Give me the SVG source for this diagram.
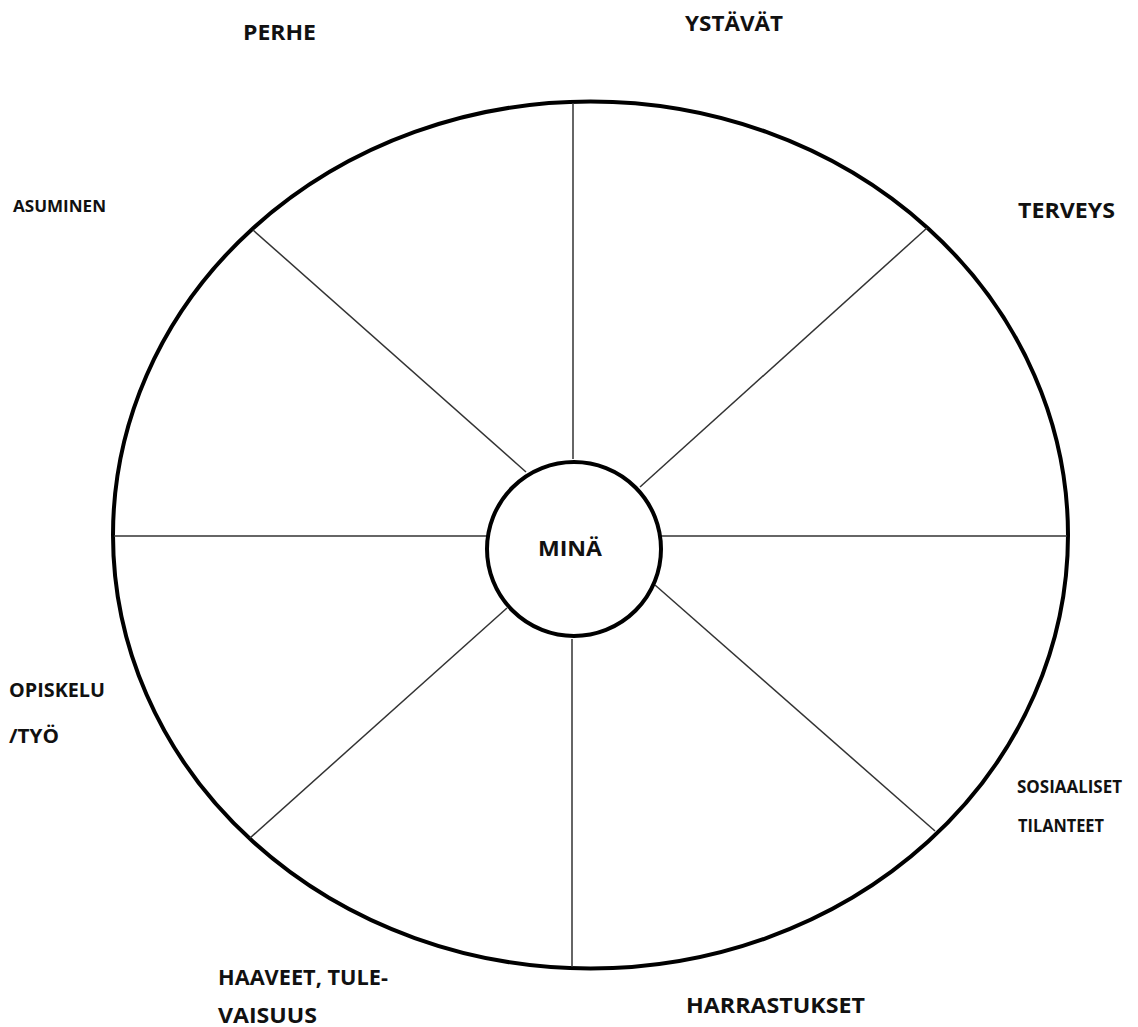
<svg xmlns="http://www.w3.org/2000/svg" width="1138" height="1027" viewBox="0 0 1138 1027">
<style>
.lbl{font-family:"Open Sans","Liberation Sans",sans-serif;font-weight:bold;fill:#111}
.spoke{stroke:#333;stroke-width:1.5;fill:none}
.rim{stroke:#000;stroke-width:4;fill:none}
</style>
<rect width="1138" height="1027" fill="#fff"/>
<g id="wheel">
<ellipse class="rim" cx="590.5" cy="535" rx="477.5" ry="433.5"/>
</g>
<g id="connectors">
<line class="spoke" x1="573" y1="103" x2="573" y2="459"/>
<line class="spoke" x1="572" y1="639" x2="572" y2="967"/>
<line class="spoke" x1="114" y1="536" x2="488" y2="536"/>
<line class="spoke" x1="660" y1="536" x2="1067" y2="536"/>
<line class="spoke" x1="253" y1="230" x2="526" y2="472"/>
<line class="spoke" x1="927" y1="228" x2="640" y2="487"/>
<line class="spoke" x1="935" y1="831" x2="655" y2="585"/>
<line class="spoke" x1="250" y1="838" x2="507" y2="608"/>
</g>
<g id="mina">
<circle class="rim" cx="574" cy="549" r="87"/>
<text class="lbl" x="538" y="556" font-size="22" textLength="64" lengthAdjust="spacingAndGlyphs">MINÄ</text>
</g>
<g id="perhe"><text class="lbl" x="243" y="40" font-size="22" textLength="73" lengthAdjust="spacingAndGlyphs">PERHE</text></g>
<g id="ystavat"><text class="lbl" x="685" y="31" font-size="21" textLength="98" lengthAdjust="spacingAndGlyphs">YSTÄVÄT</text></g>
<g id="asuminen"><text class="lbl" x="13" y="212" font-size="16" textLength="93" lengthAdjust="spacingAndGlyphs">ASUMINEN</text></g>
<g id="terveys"><text class="lbl" x="1018" y="218" font-size="21" textLength="97" lengthAdjust="spacingAndGlyphs">TERVEYS</text></g>
<g id="sosiaaliset"><text class="lbl" x="1017" y="793" font-size="17" textLength="105" lengthAdjust="spacingAndGlyphs">SOSIAALISET</text><text class="lbl" x="1018" y="832" font-size="17" textLength="86" lengthAdjust="spacingAndGlyphs">TILANTEET</text></g>
<g id="opiskelu"><text class="lbl" x="9" y="697" font-size="20" textLength="96" lengthAdjust="spacingAndGlyphs">OPISKELU</text><text class="lbl" x="9" y="743" font-size="20" textLength="50" lengthAdjust="spacingAndGlyphs">/TYÖ</text></g>
<g id="haaveet"><text class="lbl" x="218" y="985" font-size="21" textLength="170" lengthAdjust="spacingAndGlyphs">HAAVEET, TULE-</text><text class="lbl" x="218" y="1023" font-size="21" textLength="99" lengthAdjust="spacingAndGlyphs">VAISUUS</text></g>
<g id="harrastukset"><text class="lbl" x="686" y="1013" font-size="22" textLength="179" lengthAdjust="spacingAndGlyphs">HARRASTUKSET</text></g>
</svg>
